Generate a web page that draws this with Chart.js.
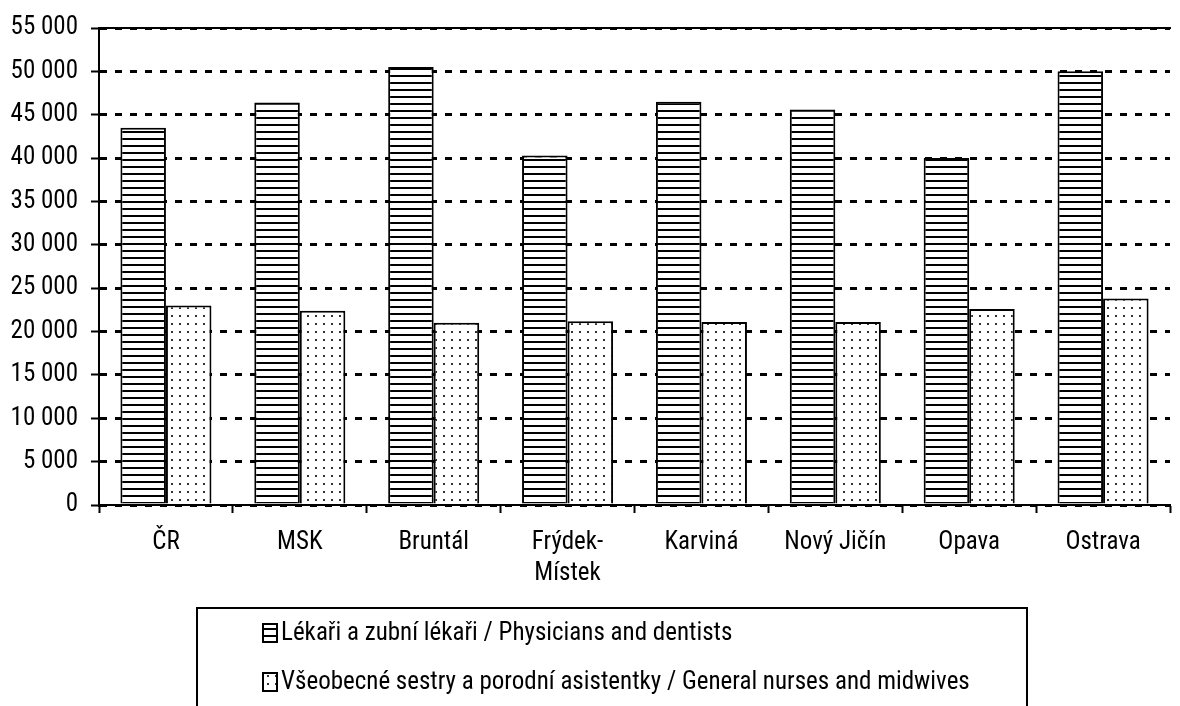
<!DOCTYPE html>
<html><head><meta charset="utf-8">
<script src="https://cdn.jsdelivr.net/npm/chart.js@4.4.1/dist/chart.umd.min.js"></script>
<style>html,body{margin:0;padding:0;background:#fff;}#wrap{width:1180px;height:706px;position:relative;}</style>
</head><body><div id="wrap"><canvas id="c" width="1180" height="706"></canvas></div>
<script>
const categories = ['ČR', 'MSK', 'Bruntál', ['Frýdek-', 'Místek'], 'Karviná', 'Nový Jičín', 'Opava', 'Ostrava'];
const seriesNames = ['Lékaři a zubní lékaři / Physicians and dentists', 'Všeobecné sestry a porodní asistentky / General nurses and midwives'];
const physicians = [43500, 46400, 50500, 40300, 46500, 45600, 40000, 50000];
const nurses = [23000, 22400, 21000, 21200, 21100, 21100, 22600, 23800];
const yTickValues = [0, 5000, 10000, 15000, 20000, 25000, 30000, 35000, 40000, 45000, 50000, 55000];
const yTickLabels = ['0', '5 000', '10 000', '15 000', '20 000', '25 000', '30 000', '35 000', '40 000', '45 000', '50 000', '55 000'];

const FONT = "'Liberation Sans Narrow','Arial Narrow','Roboto Condensed','DejaVu Sans Condensed',sans-serif";
const FS = 25;

const canvas = document.getElementById('c');
const ctx = canvas.getContext('2d');

function stripePattern() {
  const c = document.createElement('canvas'); c.width = 8; c.height = 7;
  const g = c.getContext('2d');
  g.fillStyle = '#fff'; g.fillRect(0, 0, 8, 7);
  g.fillStyle = '#000'; g.fillRect(0, 5, 8, 2);
  return ctx.createPattern(c, 'repeat');
}
function dotPattern() {
  const c = document.createElement('canvas'); c.width = 8; c.height = 8;
  const g = c.getContext('2d');
  g.fillStyle = '#fff'; g.fillRect(0, 0, 8, 8);
  g.fillStyle = '#333'; g.fillRect(3, 3, 2, 2);
  return ctx.createPattern(c, 'repeat');
}

const boxLegend = {
  id: 'boxLegend',
  afterDraw(chart) {
    const c = chart.ctx;
    c.save();
    c.strokeStyle = '#000'; c.lineWidth = 2;
    c.beginPath();
    c.moveTo(197, 720); c.lineTo(197, 608); c.lineTo(1027, 608); c.lineTo(1027, 720);
    c.stroke();
    chart.data.datasets.forEach((ds, i) => {
      const cy = 633 + i * 49;
      c.fillStyle = ds.backgroundColor;
      c.fillRect(263, cy - 9, 14, 18);
      c.lineWidth = 2; c.strokeStyle = '#000';
      c.strokeRect(263, cy - 9, 14, 18);
      c.fillStyle = '#000';
      c.font = FS + 'px ' + FONT;
      c.textBaseline = 'middle'; c.textAlign = 'left';
      c.fillText(ds.label, 281, cy + 1);
    });
    c.restore();
  }
};

new Chart(canvas, {
  type: 'bar',
  data: {
    labels: categories,
    datasets: [
      { label: seriesNames[0], data: physicians, backgroundColor: stripePattern(), borderColor: '#000', borderWidth: 2, borderSkipped: 'start' },
      { label: seriesNames[1], data: nurses, backgroundColor: dotPattern(), borderColor: '#000', borderWidth: 2, borderSkipped: 'start' }
    ]
  },
  options: {
    responsive: false,
    animation: false,
    devicePixelRatio: 1,
    layout: { padding: { top: 22, right: 10, bottom: 0, left: 0 } },
    plugins: { legend: { display: false }, tooltip: { enabled: false } },
    datasets: { bar: { categoryPercentage: 0.68, barPercentage: 1.0 } },
    scales: {
      x: {
        position: 'bottom',
        grid: { offset: true, drawOnChartArea: false, drawTicks: true, tickLength: 8, tickWidth: 2, tickColor: '#000', color: '#000' },
        border: { display: true, color: '#000', width: 2 },
        ticks: { color: '#000', font: { family: FONT, size: FS, lineHeight: 1.25 }, padding: 14, maxRotation: 0, autoSkip: false },
        afterFit: s => { s.height = 201; }
      },
      x2: {
        type: 'category', labels: categories, position: 'top',
        grid: { drawOnChartArea: false, drawTicks: false },
        ticks: { display: false },
        border: { display: true, color: '#000', width: 2 },
        afterFit: s => { s.height = 0; }
      },
      y: {
        min: 0, max: 55000,
        afterBuildTicks: s => { s.ticks = yTickValues.map(v => ({ value: v })); },
        ticks: { color: '#000', font: { family: FONT, size: FS }, padding: 13,
          callback: (v) => yTickLabels[yTickValues.indexOf(v)] },
        grid: { color: '#000', lineWidth: 3, tickLength: 8, tickWidth: 2, tickColor: '#000', drawOnChartArea: true },
        border: { display: true, color: '#000', width: 2, dash: [7, 8] },
        afterFit: s => { s.width = 99; }
      }
    }
  },
  plugins: [boxLegend]
});
</script></body></html>
